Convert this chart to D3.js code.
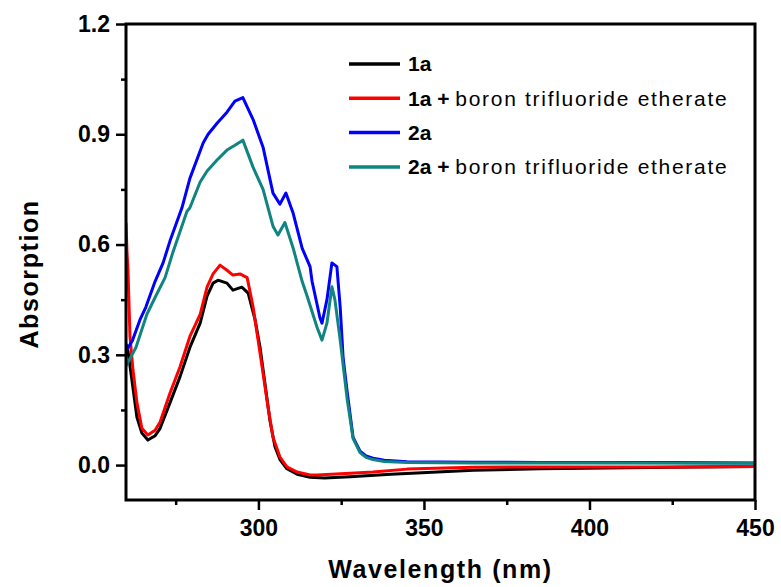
<!DOCTYPE html>
<meta charset="utf-8">
<title>Absorption spectra</title>
<style>
body {
  margin: 0;
  background: #fff;
}
svg text {
  font-family: Arial, "Liberation Sans", sans-serif;
  fill: #000;
}
</style>
<body></body>
<script src="https://d3js.org/d3.v7.min.js"></script>
<script>
var width = 781,
    height = 587;

var margin = {left: 126, right: 26, top: 24, bottom: 87};

// wavelength (nm) / absorption pairs
var wl1a = [260, 260.3, 260.6, 262.1, 263.3, 264.8, 266.6, 268.8, 270.3, 273.3, 276.3, 279.3, 282.4, 284.5, 286.3, 287.8, 290.5, 292.3, 295.0, 296.9, 299.0, 300.5, 302, 303.5, 305, 306.5, 308.6, 311.7, 315.6, 320, 327.7, 340, 365, 385, 425, 450];
var abs1a = [0.33, 0.32, 0.31, 0.21, 0.13, 0.087, 0.068, 0.08, 0.10, 0.17, 0.24, 0.32, 0.386, 0.46, 0.495, 0.503, 0.495, 0.476, 0.484, 0.468, 0.395, 0.32, 0.22, 0.12, 0.05, 0.015, -0.01, -0.025, -0.033, -0.035, -0.032, -0.025, -0.014, -0.01, -0.006, -0.004];

var wl1aB = [260, 260.3, 260.6, 261.2, 262.1, 263.3, 264.8, 266.6, 268.8, 270.3, 273.3, 276.3, 279.3, 282.4, 284.5, 286.3, 288.4, 290.5, 292.3, 294.4, 296.6, 298.4, 299.9, 301.4, 302.9, 304.4, 306.5, 308.6, 311.7, 315.6, 317.7, 327.7, 334.6, 344.9, 364.8, 385, 425, 450];
var abs1aB = [0.66, 0.58, 0.53, 0.35, 0.26, 0.17, 0.10, 0.082, 0.095, 0.117, 0.196, 0.267, 0.35, 0.41, 0.485, 0.52, 0.544, 0.53, 0.517, 0.52, 0.51, 0.43, 0.34, 0.25, 0.158, 0.076, 0.022, -0.005, -0.019, -0.027, -0.027, -0.022, -0.019, -0.011, -0.006, -0.005, -0.005, -0.004];

var wl2a = [260, 262, 264.2, 266, 268.8, 271.2, 273.3, 276.9, 279.3, 283.3, 284.8, 287.5, 290.5, 292.9, 295.3, 298.4, 301.4, 304.4, 306.5, 308.3, 310.5, 313.2, 315.6, 316.2, 318.6, 319.2, 320.7, 322.2, 323.7, 324.7, 325.6, 326.8, 328.6, 330.7, 332.5, 334.6, 338, 344.9, 365, 385, 425, 450];
var abs2a = [0.31, 0.34, 0.395, 0.43, 0.50, 0.55, 0.61, 0.70, 0.78, 0.876, 0.90, 0.93, 0.96, 0.99, 1.0, 0.94, 0.865, 0.74, 0.71, 0.74, 0.685, 0.59, 0.54, 0.50, 0.40, 0.386, 0.45, 0.55, 0.54, 0.43, 0.29, 0.20, 0.075, 0.038, 0.025, 0.019, 0.013, 0.009, 0.008, 0.007, 0.007, 0.006];

var wl2aB = [260, 263, 266.3, 269, 271.8, 274.2, 278.4, 279.3, 282.4, 284.5, 287.5, 290.5, 292.9, 295.3, 298.4, 301.4, 304.4, 305.9, 308.0, 310.5, 313.2, 314.7, 317.7, 319.2, 320.7, 322.2, 323.1, 324.7, 326.8, 328.6, 330.7, 332.5, 334.6, 338, 345, 365, 400, 450];
var abs2aB = [0.27, 0.32, 0.41, 0.46, 0.51, 0.58, 0.69, 0.70, 0.77, 0.80, 0.83, 0.857, 0.87, 0.884, 0.81, 0.75, 0.65, 0.626, 0.66, 0.59, 0.50, 0.46, 0.375, 0.34, 0.386, 0.485, 0.45, 0.34, 0.18, 0.072, 0.034, 0.021, 0.015, 0.010, 0.007, 0.006, 0.006, 0.005];

var seriesNames = ['1a', '1a + boron trifluoride etherate', '2a', '2a + boron trifluoride etherate'];
var seriesColors = ['#000000', '#ff0000', '#0000ff', '#0f8480'];

var xTicks = [300, 350, 400, 450],
    xMinor = [275, 325, 375, 425],
    yTicks = [0.0, 0.3, 0.6, 0.9, 1.2],
    yMinor = [0.15, 0.45, 0.75, 1.05];

var series = [
  {wl: wl1a, abs: abs1a},
  {wl: wl1aB, abs: abs1aB},
  {wl: wl2a, abs: abs2a},
  {wl: wl2aB, abs: abs2aB}
];

var x = d3.scaleLinear()
    .domain([260, 450])
    .range([margin.left, width - margin.right]);

var y = d3.scaleLinear()
    .domain([-0.095, 1.2])
    .range([height - margin.bottom, margin.top]);

var svg = d3.select('body')
  .append('svg')
  .attr('width', width)
  .attr('height', height);

svg.append('clipPath')
  .attr('id', 'plotClip')
  .append('rect')
  .attr('x', margin.left)
  .attr('y', margin.top)
  .attr('width', width - margin.left - margin.right)
  .attr('height', height - margin.top - margin.bottom);

var line = d3.line()
  .x(function (d) { return x(d[0]); })
  .y(function (d) { return y(d[1]); });

svg.append('g')
  .attr('clip-path', 'url(#plotClip)')
  .selectAll('path')
  .data(series)
  .enter()
  .append('path')
  .attr('d', function (s) {
    return line(s.wl.map(function (w, i) { return [w, s.abs[i]]; }));
  })
  .style('fill', 'none')
  .style('stroke', function (s, i) { return seriesColors[i]; })
  .style('stroke-width', 3)
  .style('stroke-linejoin', 'round');

// frame
svg.append('rect')
  .attr('x', margin.left)
  .attr('y', margin.top)
  .attr('width', width - margin.left - margin.right)
  .attr('height', height - margin.top - margin.bottom)
  .style('fill', 'none')
  .style('stroke', '#000')
  .style('stroke-width', 3);

// axes
svg.append('g')
  .attr('transform', 'translate(0,' + (height - margin.bottom) + ')')
  .call(d3.axisBottom(x).tickValues(xTicks).tickSize(10).tickPadding(10).tickFormat(d3.format('d')));

svg.append('g')
  .attr('transform', 'translate(0,' + (height - margin.bottom) + ')')
  .call(d3.axisBottom(x).tickValues(xMinor).tickSize(5).tickFormat(''));

svg.append('g')
  .attr('transform', 'translate(' + margin.left + ',0)')
  .call(d3.axisLeft(y).tickValues(yTicks).tickSize(10).tickPadding(6).tickFormat(d3.format('.1f')));

svg.append('g')
  .attr('transform', 'translate(' + margin.left + ',0)')
  .call(d3.axisLeft(y).tickValues(yMinor).tickSize(5).tickFormat(''));

svg.selectAll('.domain').remove();
svg.selectAll('.tick line')
  .style('stroke', '#000')
  .style('stroke-width', 2.5);
svg.selectAll('.tick text')
  .style('font-size', '23px')
  .style('font-weight', 'bold');

svg.append('text')
  .attr('x', x(355))
  .attr('y', 578)
  .attr('text-anchor', 'middle')
  .style('font-size', '25px')
  .style('font-weight', 'bold')
  .style('letter-spacing', '1.6px')
  .text('Wavelength (nm)');

svg.append('text')
  .attr('transform', 'translate(38,' + y(0.52) + ') rotate(-90)')
  .attr('text-anchor', 'middle')
  .style('font-size', '25px')
  .style('font-weight', 'bold')
  .style('letter-spacing', '1.6px')
  .text('Absorption');

// legend
var legend = svg.append('g')
  .selectAll('g')
  .data(seriesNames)
  .enter()
  .append('g')
  .attr('transform', function (d, i) { return 'translate(349,' + (64 + i * 34.3) + ')'; });

legend.append('line')
  .attr('x1', 0)
  .attr('x2', 51)
  .style('stroke', function (d, i) { return seriesColors[i]; })
  .style('stroke-width', 3.5);

var legendText = legend.append('text')
  .attr('x', 59)
  .attr('dy', '0.35em')
  .style('font-size', '21px');

legendText.append('tspan')
  .style('font-weight', 'bold')
  .text(function (d) { return d.split(' ')[0]; });

legendText.filter(function (d) { return d.indexOf('+') > 0; })
  .append('tspan')
  .style('font-weight', 'bold')
  .text(' + ');

legendText.filter(function (d) { return d.indexOf('+') > 0; })
  .append('tspan')
  .style('letter-spacing', '1.7px')
  .text(function (d) { return d.split(' + ')[1]; });
</script>
